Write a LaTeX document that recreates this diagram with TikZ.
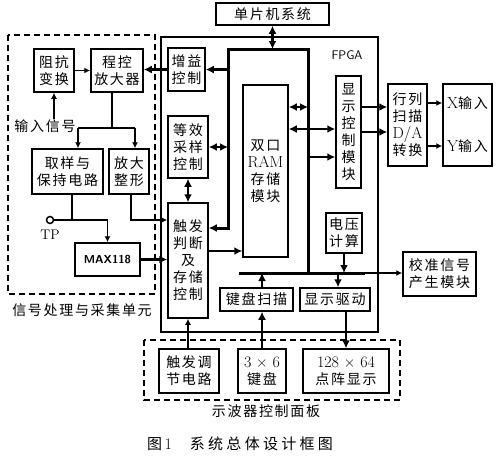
\documentclass[tikz,border=0pt]{standalone}
\usepackage{fontspec}
\newfontfamily\cjk[LetterSpace=12]{Noto Sans CJK SC}
\newfontfamily\cjkcap[LetterSpace=22]{Noto Sans CJK SC}
\usetikzlibrary{arrows.meta,positioning}
\tikzset{
    %Define style for boxes
    box/.style={
           rectangle,
           draw=black, line width=1.5pt,
           inner sep=0pt,
           align=center,
           font=\cjk\fontsize{14}{17}\selectfont},
    % Define style for plain texts
    txt/.style={
           inner sep=0pt,
           font=\cjk\fontsize{14}{17}\selectfont},
    % Define style for the dashed units
    group/.style={
           draw=black, line width=1.3pt,
           dash pattern=on 6pt off 4pt},
    % Define bus and arrow styles
    bus/.style={
           line width=3pt},
    bpil/.style={
           line width=2.4pt,
           -{Latex[length=8pt,width=8pt]}},
    bdpil/.style={
           line width=2.4pt,
           {Latex[length=8pt,width=8pt]}-{Latex[length=8pt,width=8pt]}},
    spil/.style={
           line width=1.3pt,
           -{Latex[length=6pt,width=6pt]}}
}
% Box from its two corners: name, x1, y1, x2, y2, text
\newcommand*{\bnode}[6]{\node[box, minimum width={(#4-#2)*1pt}, minimum height={(#5-#3)*1pt}] (#1) at ({(#2+#4)/2},{(#3+#5)/2}) {#6};}
% Latin letters inside the Chinese texts
\newcommand*{\lat}[1]{{\rmfamily\fontsize{16}{17}\selectfont #1}}

\begin{document}
\begin{tikzpicture}[x=1pt,y=-1pt]
\useasboundingbox (0,0) rectangle (497,461);

% First draw the two dashed units and the FPGA frame
\draw[group] (8,35) rectangle (155,294);
\draw[group] (144,340) rectangle (400,400);
\draw[line width=1.3pt] (161,37) rectangle (378,332);
\node[inner sep=0pt, font=\sffamily\fontsize{12.5}{14}\selectfont] (fpga) at (347,55) {FPGA};

% Signal processing unit
\bnode{zk}{34}{49}{74}{92}{阻抗\\变换}
\bnode{ck}{91}{49}{143}{92}{程控\\放大器}
\bnode{qy}{32}{149}{103}{194}{取样与\\保持电路}
\bnode{fd}{109}{149}{149}{194}{放大\\整形}
\node[box, font=\sffamily\bfseries\fontsize{11.5}{14}\selectfont, minimum width=65pt, minimum height=33pt] (max) at (107.5,259.5) {MAX118};
\node[circle, draw, line width=1.5pt, minimum size=7pt, inner sep=0pt] (tp) at (50,220) {};
\node[inner sep=0pt, font=\rmfamily\fontsize{14}{15}\selectfont, below=5pt of tp] (tplab) {TP};
\node[txt] (srin) at (45,126) {输入信号};
\node[txt] (sglab) at (82,310) {信号处理与采集单元};

% FPGA modules
\bnode{zy}{168}{48}{205}{91}{增益\\控制}
\bnode{dx}{168}{116}{208}{178}{等效\\采样\\控制}
\bnode{cf}{168}{203}{208}{318}{触发\\判断\\及\\存储\\控制}
\bnode{ram}{243}{85}{288}{257}{双口\\\lat{RAM}\\存储\\模块}
\bnode{xs}{336}{76}{361}{188}{显\\示\\控\\制\\模\\块}
\bnode{dy}{326}{213}{362}{253}{电压\\计算}
\bnode{jp}{220}{288}{293}{311}{键盘扫描}
\bnode{qd}{300}{288}{370}{311}{显示驱动}

% Outside modules
\bnode{dp}{216}{3}{329}{25}{单片机系统}
\bnode{hl}{388}{84}{427}{166}{行列\\扫描\\\lat{D/A}\\转换}
\bnode{xy}{443}{84}{492}{166}{\lat{X}输入\\[26pt]\lat{Y}输入}
\bnode{jz}{403}{252}{476}{296}{校准信号\\产生模块}

% Control panel
\bnode{tj}{159}{349}{219}{393}{触发调\\节电路}
\bnode{kb}{238}{349}{286}{393}{\lat{3 × 6}\\键盘}
\bnode{dz}{303}{349}{389}{393}{\lat{128 × 64}\\点阵显示}
\node[txt] (pnlab) at (266,411) {示波器控制面板};

% Caption
\node[inner sep=0pt, font=\cjkcap\fontsize{15}{17}\selectfont] (cap) at (240,444) {图\,\lat{1}\hspace{1.2em}系统总体设计框图};

% Bus corners
\coordinate (bTL) at (228,49);
\coordinate (bTR) at (308,49);
\coordinate (bL) at (228,228);
\coordinate (bBL) at (239,273);
\coordinate (bBR) at (365,273);
\coordinate (bBM) at (308,273);

% Now draw the buses
\draw[bpil, line width=3pt] (bBM) -- (bTR) -- (bTL) -- (bL) -- (bL -| cf.east);
\draw[bus] (bBL) -- (bBR);
\draw[spil] (bBR) -- (bBR -| jz.west);

% Connections in the signal processing unit
\draw[spil] (zk.south |- srin.north) -- (zk.south);
\draw[spil] (zk.east) -- (ck.west);
\coordinate (sp) at (112,128);
\coordinate (spl) at (78,128);
\coordinate (spr) at (135,128);
\draw[line width=1.3pt] (ck.south -| sp) -- (sp) (spl) -- (spr);
\draw[spil] (spl) -- (spl |- qy.north);
\draw[spil] (spr) -- (spr |- fd.north);
\coordinate (tpj) at (72,220);
\draw[line width=1.3pt] (qy.south -| tpj) -- (tpj);
\draw[spil] (tp.east) -- (max.north |- tp) -- (max.north);
\coordinate (fdo) at (131,220);
\draw[spil] (fdo |- fd.south) -- (fdo) -- (fdo -| cf.west);
\draw[bpil] (max.east) -- (max.east -| cf.west);

% Connections of the FPGA modules
\draw[bpil] (zy.west) -- (zy.west -| ck.east);
\draw[bpil] (zy.east -| bTL) -- (zy.east);
\draw[bdpil] (dx.east) -- (dx.east -| bTL);
\draw[bdpil] (dx.south) -- (cf.north);
\draw[bpil] ([yshift=9.5pt]cf.east) -- ([yshift=9.5pt]cf.east -| ram.west);
\draw[bdpil] ([yshift=64pt]ram.east) -- ([yshift=64pt]ram.east -| bTR);
\draw[bdpil] ([yshift=42pt]ram.east) -- ([yshift=42pt]ram.east -| xs.west);
\draw[bpil] (bTR |- 0,157) -- (xs.west |- 0,157);
\draw[bpil] ([yshift=25pt]xs.east) -- ([yshift=25pt]xs.east -| hl.west);
\draw[bpil] (xs.east |- 0,132) -- (hl.west |- 0,132);
\draw[spil] (hl.east |- 0,103) -- (xy.west |- 0,103);
\draw[spil] (hl.east |- 0,146) -- (xy.west |- 0,146);
\draw[bdpil] (dp.south) -- (dp.south |- bTL);
\draw[bpil] (dy.south) -- (dy.south |- bBL);
\draw[bpil] (kb.north |- jp.north) -- (kb.north |- bBL);
\draw[bpil] ([xshift=3pt]qd.north |- bBL) -- ([xshift=3pt]qd.north);

% Connections of the control panel
\draw[spil] (cf.south |- tj.north) -- (cf.south);
\draw[bpil] (kb.north) -- (kb.north |- jp.south);
\draw[bpil] (dz.north |- qd.south) -- (dz.north);
\end{tikzpicture}
\end{document}
